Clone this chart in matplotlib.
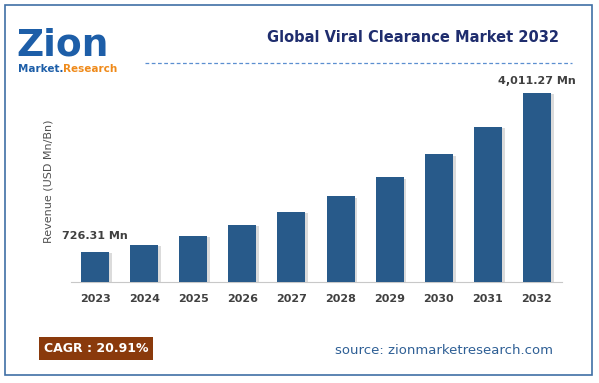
import matplotlib.pyplot as plt
import matplotlib.patheffects as pe
from matplotlib.patches import Rectangle

years = ["2023", "2024", "2025", "2026", "2027", "2028", "2029", "2030", "2031", "2032"]
revenue = [726.31, 878, 1062, 1284, 1552, 1877, 2269, 2744, 3318, 4011.27]
first_label = "726.31 Mn"
last_label = "4,011.27 Mn"
title = "Global Viral Clearance Market 2032"
cagr_text = "CAGR : 20.91%"
source_text = "source: zionmarketresearch.com"

bar_color = "#285a8a"
text_dark = "#404040"

fig = plt.figure(figsize=(5.99, 3.83), dpi=100)
fig.patch.set_facecolor("white")

# outer frame
fig.add_artist(Rectangle((5 / 599, 8 / 383), 587 / 599, 370 / 383, transform=fig.transFigure,
                         fill=False, edgecolor="#3f6fa5", linewidth=1.2))

ax = fig.add_axes([70.5 / 599, 101 / 383, 491 / 599, 202 / 383])
x = range(len(years))
bars = ax.bar(x, revenue, width=0.57, color=bar_color, zorder=3)
for b in bars:
    b.set_path_effects([pe.SimplePatchShadow(offset=(2, -1), shadow_rgbFace="#b0b0b0", alpha=0.45),
                        pe.Normal()])

ax.set_xlim(-0.5, len(years) - 0.5)
ax.set_ylim(105, 4280)
ax.set_xticks(list(x))
ax.set_xticklabels(years, fontsize=8, fontweight="bold", color=text_dark)
ax.tick_params(axis="x", length=0, pad=9)
ax.set_yticks([])
for s in ["top", "right", "left"]:
    ax.spines[s].set_visible(False)
ax.spines["bottom"].set_color("#c8c8c8")
ax.set_ylabel("Revenue (USD Mn/Bn)", fontsize=8, color="#505050", labelpad=12)

ax.annotate(first_label, (0, revenue[0]), xytext=(0, 8), textcoords="offset points",
            ha="center", va="bottom", fontsize=8, fontweight="bold", color=text_dark)
ax.annotate(last_label, (len(years) - 1, revenue[-1]), xytext=(0, 5), textcoords="offset points",
            ha="center", va="bottom", fontsize=8, fontweight="bold", color=text_dark)

# title and dashed rule
fig.text(413 / 599, 1 - 38 / 383, title, ha="center", va="center", fontsize=10.5,
         fontweight="bold", color="#1f2d6e")
fig.add_artist(plt.Line2D([145 / 599, 572 / 599], [1 - 63 / 383, 1 - 63 / 383], transform=fig.transFigure,
                          color="#5b8fd0", linestyle=(0, (3, 2)), linewidth=0.9))

# logo
fig.text(16 / 599, 1 - 45 / 383, "Zion", ha="left", va="center", fontsize=27, fontweight="bold",
         color="#1d5ea8")
mkt = fig.text(18 / 599, 1 - 69 / 383, "Market.", ha="left", va="center", fontsize=7.5, fontweight="bold",
               color="#1d5ea8")
ax.annotate("Research", xy=(1, 0.5), xycoords=mkt, ha="left", va="center", fontsize=7.5,
            fontweight="bold", color="#ef8a1a", annotation_clip=False)

# CAGR box and source
fig.text(96 / 599, 1 - 348 / 383, cagr_text, ha="center", va="center", fontsize=9, fontweight="bold",
         color="white", bbox=dict(boxstyle="square,pad=0.4", facecolor="#8a3a0c", edgecolor="none"))
fig.text(444 / 599, 1 - 350 / 383, source_text, ha="center", va="center", fontsize=9.5, color="#2e5f95")

fig.savefig("out.png", dpi=100)
